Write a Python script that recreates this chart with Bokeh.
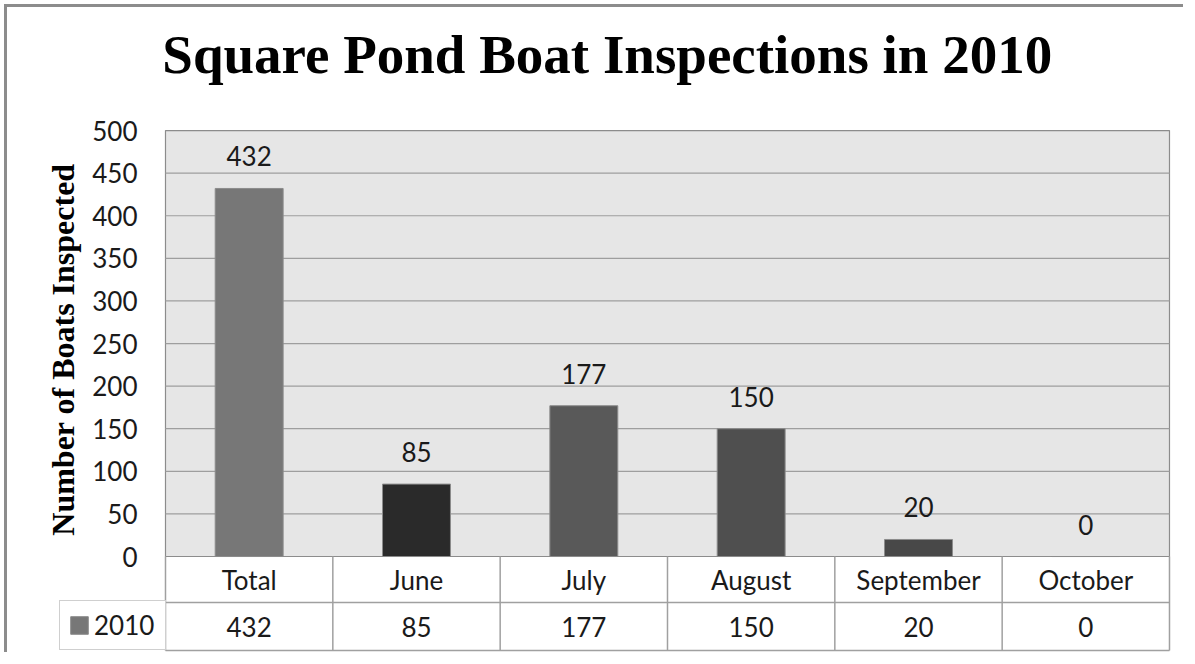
import numpy as np
from bokeh.plotting import figure
from bokeh.models import ColumnDataSource, Range1d, FixedTicker, Legend, LegendItem
from bokeh.core.properties import value
from bokeh.embed import file_html
from bokeh.resources import INLINE

# ---- data ----
categories = ["Total", "June", "July", "August", "September", "October"]
inspections = [432, 85, 177, 150, 20, 0]
series_name = "2010"
bar_colors = ["#777777", "#2a2a2a", "#595959", "#4f4f4f", "#484848", "#444444"]
y_ticks = list(range(0, 501, 50))
title_text = "Square Pond Boat Inspections in 2010"
y_title = "Number of Boats Inspected"

# ---- layout constants ----
Y_MAX = 500
Y_TOP = Y_MAX + 144.4     # room above the plot area for the chart title
HEADER_BOTTOM = -54.0     # bottom of the category row (data units)
TABLE_BOTTOM = -110.3     # bottom of the value row (data units)
X_START = -0.747          # room left of the table for the key cell and the axis title
Y_TITLE_X = -0.61
Y_TITLE_Y = 243
TITLE_X = 2.64
TITLE_Y = 589
PAD_X = 0.012
PAD_Y = 2.35
n = len(categories)
xs = [i + 0.5 for i in range(n)]

TICK_FONT = "Lato"
TICK_SIZE = "26px"
TEXT_COLOR = "#1a1a1a"

source = ColumnDataSource(dict(
    x=xs, cat=categories, val=inspections,
    label=[str(v) for v in inspections], color=bar_colors,
))

p = figure(
    width=1179, height=648, title=None,
    x_range=Range1d(X_START, n + PAD_X),
    y_range=Range1d(TABLE_BOTTOM - PAD_Y, Y_TOP),
    output_backend="svg", toolbar_location=None,
    x_axis_location=None,
    min_border_left=33, min_border_right=15, min_border_top=0, min_border_bottom=3,
)
p.background_fill_color = "white"
p.border_fill_color = "white"
p.outline_line_color = None
p.styles = {"border-left": "3px solid #8c8c8c", "border-top": "3px solid #8c8c8c",
            "margin-left": "4px", "margin-top": "4px"}

for g in p.grid:
    g.visible = False

# y axis (labels pulled inward next to the plot area)
p.yaxis.ticker = FixedTicker(ticks=y_ticks)
p.yaxis.axis_line_color = None
p.yaxis.major_tick_line_color = None
p.yaxis.minor_tick_line_color = None
p.yaxis.major_tick_out = 0
p.yaxis.major_tick_in = 0
p.yaxis.major_label_standoff = -97
p.yaxis.major_label_text_font = TICK_FONT
p.yaxis.major_label_text_font_size = TICK_SIZE
p.yaxis.major_label_text_color = TEXT_COLOR

# chart title
p.text(x=[TITLE_X], y=[TITLE_Y], text=[title_text], text_align="center",
       text_baseline="alphabetic", text_font=value("Liberation Serif"),
       text_font_style="bold", text_font_size="55px", text_color="#000000")

# plot area background and grid lines
p.quad(left=0, right=n, bottom=0, top=Y_MAX, fill_color="#e6e6e6",
       line_color="#8c8c8c", line_width=1.2)
grid_ticks = y_ticks[1:-1]
p.segment(x0=[0] * len(grid_ticks), x1=[n] * len(grid_ticks), y0=grid_ticks, y1=grid_ticks,
          line_color="#9e9e9e", line_width=1.2)

# bars
bars = p.vbar(x="x", top="val", width=0.406, source=source,
              fill_color="color", line_color="#8c8c8c", line_width=1)

# data labels
p.text(x="x", y="val", text="label", source=source, text_align="center",
       text_baseline="alphabetic", y_offset=-32, text_font=value(TICK_FONT),
       text_font_size=TICK_SIZE, text_color=TEXT_COLOR)

# y-axis title
p.text(x=[Y_TITLE_X], y=[Y_TITLE_Y], text=[y_title], angle=np.pi / 2,
       text_align="center", text_baseline="middle",
       text_font=value("Liberation Serif"), text_font_style="bold",
       text_font_size="32px", text_color="#000000")

# data table
bounds = list(range(n + 1))
p.segment(x0=bounds, y0=[0] * len(bounds), x1=bounds, y1=[TABLE_BOTTOM] * len(bounds),
          line_color="#a0a0a0", line_width=1.5)
p.segment(x0=[0, 0], y0=[HEADER_BOTTOM, TABLE_BOTTOM], x1=[n, n], y1=[HEADER_BOTTOM, TABLE_BOTTOM],
          line_color="#a0a0a0", line_width=1.5)
p.text(x="x", y=HEADER_BOTTOM / 2, text="cat", source=source, text_align="center",
       text_baseline="middle", text_font=value(TICK_FONT), text_font_size=TICK_SIZE,
       text_color=TEXT_COLOR)
p.text(x="x", y=(HEADER_BOTTOM + TABLE_BOTTOM) / 2, text="label", source=source,
       text_align="center", text_baseline="middle", text_font=value(TICK_FONT),
       text_font_size=TICK_SIZE, text_color=TEXT_COLOR)

# legend key cell of the table
legend = Legend(
    items=[LegendItem(label=series_name, renderers=[bars], index=0)],
    location=(19, 2), padding=8, margin=0, spacing=0,
    glyph_width=22, glyph_height=22, label_standoff=4, label_width=63, label_height=30,
    label_text_font=TICK_FONT, label_text_font_size=TICK_SIZE, label_text_color=TEXT_COLOR,
    border_line_color="#a0a0a0", border_line_width=1.5,
    background_fill_color="white", background_fill_alpha=1.0,
)
p.add_layout(legend)

open("out.html", "w").write(file_html(p, INLINE))
